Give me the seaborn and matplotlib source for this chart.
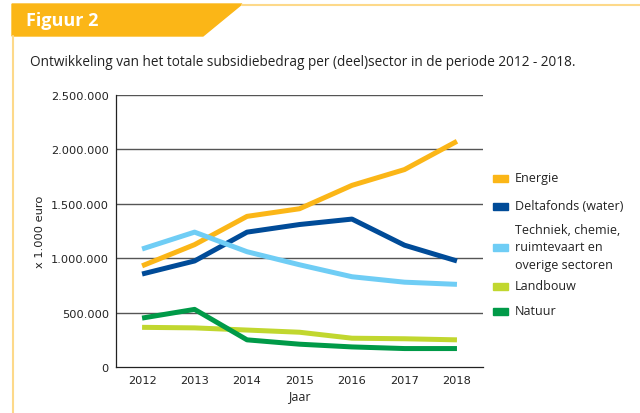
import matplotlib
matplotlib.use("Agg")
import matplotlib.pyplot as plt
from matplotlib.patches import Polygon, Rectangle
from matplotlib.lines import Line2D
import seaborn as sns
import pandas as pd

# data (x 1.000 euro)
years = [2012, 2013, 2014, 2015, 2016, 2017, 2018]
energie = [930000, 1125000, 1385000, 1455000, 1670000, 1815000, 2075000]
deltafonds = [855000, 975000, 1240000, 1310000, 1360000, 1120000, 975000]
techniek = [1085000, 1240000, 1060000, 940000, 830000, 780000, 760000]
landbouw = [365000, 360000, 340000, 320000, 265000, 260000, 250000]
natuur = [450000, 530000, 250000, 210000, 185000, 170000, 170000]

sectors = ["Energie", "Deltafonds (water)",
           "Techniek, chemie,\nruimtevaart en\noverige sectoren",
           "Landbouw", "Natuur"]
colors = ["#FBB617", "#004B98", "#6FCDF5", "#C1D72F", "#009A48"]
yticks = [0, 500000, 1000000, 1500000, 2000000, 2500000]

df = pd.DataFrame({
    "Jaar": years * 5,
    "waarde": energie + deltafonds + techniek + landbouw + natuur,
    "sector": [s for s in sectors for _ in years],
})

sns.set_theme(style="white")
plt.rcParams["font.family"] = ["Open Sans", "DejaVu Sans"]

fig = plt.figure(figsize=(6.4, 4.14), dpi=100)
ax = fig.add_axes([0.181, 0.111, 0.574, 0.657])

# horizontal grid lines first, lines over them
for v in yticks[1:]:
    ax.axhline(v, color="#555555", lw=1.0, zorder=1)

sns.lineplot(data=df, x="Jaar", y="waarde", hue="sector", palette=colors,
             hue_order=sectors, linewidth=3.6, legend=False, ax=ax, zorder=3)
for ln in ax.get_lines():
    ln.set_solid_capstyle("butt")

axis_font = dict(family="DejaVu Sans", size=8.2, color="#222222")
ax.set_xlim(2011.5, 2018.5)
ax.set_ylim(0, 2500000)
ax.set_yticks(yticks)
ax.set_yticklabels([f"{v:,}".replace(",", ".") for v in yticks], **axis_font)
ax.set_xticks(years)
ax.set_xticklabels([str(y) for y in years], **axis_font)
ax.set_xticks([y + 0.5 for y in [2011] + years], minor=True)
ax.tick_params(axis="x", which="major", length=0, pad=6)
ax.tick_params(axis="x", which="minor", length=3, direction="out", width=0.8, color="#333333")
ax.tick_params(axis="y", length=3, direction="out", width=0.8, color="#333333", pad=2)

for s in ["top", "right"]:
    ax.spines[s].set_visible(False)
for s in ["left", "bottom"]:
    ax.spines[s].set_color("#222222")
    ax.spines[s].set_linewidth(0.9)

ax.set_xlabel("Jaar", fontsize=9, labelpad=3, color="#222222")
ax.set_ylabel("x 1.000 euro", labelpad=4, **axis_font)

# legend drawn by hand to match spacing of the reference
leg_y = [179, 207, 248, 287, 312]
for name, col, yy in zip(sectors, colors, leg_y):
    fy = 1 - yy / 414
    fig.patches.append(Rectangle((493 / 640, fy - 3.5 / 414), 15 / 640, 7 / 414,
                                 transform=fig.transFigure, color=col))
    fig.text(515 / 640, fy, name, fontsize=9, va="center", ha="left",
             color="#222222", linespacing=1.4)

# header banner
banner = Polygon([(12 / 640, 1 - 5 / 414), (242 / 640, 1 - 5 / 414),
                  (203 / 640, 1 - 37 / 414), (12 / 640, 1 - 37 / 414)],
                 closed=True, transform=fig.transFigure, color="#FBB617")
fig.patches.append(banner)
fig.lines.append(Line2D([242 / 640, 1], [1 - 5.5 / 414, 1 - 5.5 / 414],
                        transform=fig.transFigure, color="#FDD98A", lw=1.5))
fig.lines.append(Line2D([12.5 / 640, 12.5 / 640], [0, 1 - 37 / 414],
                        transform=fig.transFigure, color="#FDD98A", lw=1.5))
fig.text(26 / 640, 1 - 21 / 414, "Figuur 2", color="white", fontsize=13,
         fontweight="bold", va="center", ha="left")
fig.text(30 / 640, 1 - 62 / 414,
         "Ontwikkeling van het totale subsidiebedrag per (deel)sector in de periode 2012 - 2018.",
         fontsize=9.8, va="center", ha="left", color="#222222")

fig.savefig("out.png", dpi=100)
